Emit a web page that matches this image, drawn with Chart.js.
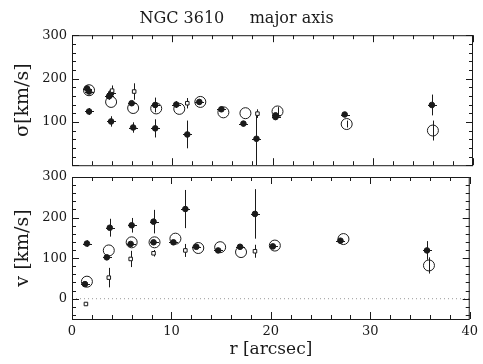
<!DOCTYPE html>
<html>
<head>
<meta charset="utf-8">
<script src="https://cdn.jsdelivr.net/npm/chart.js@4"></script>
<style>
body { margin: 0; background: #fff; }
#wrap { position: relative; width: 483px; height: 364px; }
#sigmaChart { position: absolute; left: 0; top: 0; }
#velChart { position: absolute; left: 0; top: 160px; }
</style>
</head>
<body>
<div id="wrap">
<canvas id="sigmaChart" width="483" height="178"></canvas>
<canvas id="velChart" width="483" height="204"></canvas>
</div>
<script>
// tick labels
const rTicks = [0, 10, 20, 30, 40];
const sigmaTicks = [100, 200, 300];
const velTicks = [0, 100, 200, 300];

// sigma panel (km/s)
const sigFilledR = [1.5, 1.7, 3.7, 3.9, 5.95, 8.3, 10.4, 12.7, 14.9, 17.1, 20.3, 20.3, 27.2, 35.9];
const sigFilled = [177, 170, 159, 166, 143, 139, 140, 146, 129, 96, 111, 115, 117, 139];
const sigFilledErr = [6, 6, 8, 8, 6, 17, 8, 6, 6, 6, 6, 6, 6, 24];

const sigOutR = [1.7, 3.9, 6.1, 8.3, 11.5, 18.4];
const sigOut = [124, 101, 87, 85, 71, 61];
const sigOutErr = [8, 12, 12, 21, 32, 62];

const sigOpenR = [1.7, 3.9, 6.1, 8.4, 10.7, 12.8, 15.1, 17.3, 20.5, 27.4, 36.0];
const sigOpen = [173, 146, 132, 131, 130, 146, 122, 120, 124, 95, 80];
const sigOpenErr = [0, 0, 0, 0, 0, 0, 0, 0, 10, 8, 23];

const sigSqR = [4.0, 6.2, 11.5, 18.5];
const sigSq = [172, 170, 143, 119];
const sigSqErr = [12, 19, 12, 10];

// velocity panel (km/s)
const velFilledR = [1.3, 3.5, 5.9, 8.2, 10.2, 12.5, 14.7, 16.9, 20.2, 27.0, 35.7];
const velFilled = [36, 102, 135, 139, 139, 128, 119, 128, 129, 143, 119];
const velFilledErr = [5, 6, 6, 6, 6, 5, 6, 6, 5, 6, 23];

const velOutR = [1.5, 3.8, 6.0, 8.2, 11.4, 18.4];
const velOut = [136, 175, 181, 190, 221, 209];
const velOutErr = [8, 22, 18, 29, 47, 61];

const velOpenR = [1.5, 3.7, 6.0, 8.3, 10.4, 12.7, 14.9, 17.0, 20.4, 27.3, 35.9];
const velOpen = [42, 119, 139, 139, 148, 125, 127, 115, 131, 147, 82];
const velOpenErr = [0, 0, 0, 0, 0, 0, 0, 0, 0, 0, 20];

const velSqR = [1.4, 3.7, 5.9, 8.2, 11.4, 18.4];
const velSq = [-13, 52, 98, 112, 119, 117];
const velSqErr = [4, 24, 20, 8, 16, 16];

const zeroLineR = [0, 40];
const zeroLineV = [0, 0];

const FONT = 'DejaVu Serif';
const INK = '#1a1a1a';

function pts(xs, ys) {
    return xs.map((x, i) => ({ x: x, y: ys[i] }));
}

function filledSet(xs, ys, errs) {
    return { data: pts(xs, ys), errors: errs, arms: true, pointStyle: 'circle', pointRadius: 2.8,
        backgroundColor: INK, borderColor: INK, borderWidth: 1 };
}
function openSet(xs, ys, errs) {
    return { data: pts(xs, ys), errors: errs, pointStyle: 'circle', pointRadius: 5.5,
        backgroundColor: 'rgba(0,0,0,0)', borderColor: INK, borderWidth: 1 };
}
function squareSet(xs, ys, errs) {
    return { data: pts(xs, ys), errors: errs, pointStyle: 'rect', pointRadius: 2.5,
        backgroundColor: '#fff', borderColor: INK, borderWidth: 1 };
}

// vertical error bars (+ short horizontal arms on the filled symbols)
const errorBars = {
    id: 'errorBars',
    beforeDatasetsDraw(chart) {
        const ctx = chart.ctx, xs = chart.scales.x, ys = chart.scales.y, a = chart.chartArea;
        ctx.save();
        ctx.beginPath();
        ctx.rect(a.left, a.top, a.right - a.left, a.bottom - a.top);
        ctx.clip();
        ctx.strokeStyle = INK;
        ctx.lineWidth = 1;
        chart.data.datasets.forEach(ds => {
            if (!ds.errors) return;
            ds.data.forEach((p, j) => {
                const e = ds.errors[j];
                const px = Math.round(xs.getPixelForValue(p.x)) + 0.5;
                const py = Math.round(ys.getPixelForValue(p.y)) + 0.5;
                ctx.beginPath();
                if (e) {
                    ctx.moveTo(px, ys.getPixelForValue(p.y - e));
                    ctx.lineTo(px, ys.getPixelForValue(p.y + e));
                }
                if (ds.arms) {
                    ctx.moveTo(px - 4.5, py);
                    ctx.lineTo(px + 4.5, py);
                }
                ctx.stroke();
            });
        });
        ctx.restore();
    }
};

// frame with inward ticks on all four sides
const frameTicks = {
    id: 'frameTicks',
    afterDraw(chart) {
        const { ctx, chartArea: a, scales: { x, y } } = chart;
        ctx.save();
        ctx.strokeStyle = INK;
        ctx.lineWidth = 1;
        ctx.strokeRect(a.left + 0.5, a.top + 0.5, a.right - a.left - 1, a.bottom - a.top);
        ctx.beginPath();
        for (let v = x.min; v <= x.max; v += 2) {
            const px = Math.round(x.getPixelForValue(v)) + 0.5;
            const len = v % 10 === 0 ? 7 : 4;
            ctx.moveTo(px, a.bottom); ctx.lineTo(px, a.bottom - len);
            ctx.moveTo(px, a.top); ctx.lineTo(px, a.top + len);
        }
        for (let v = Math.ceil(y.min / 20) * 20; v <= y.max; v += 20) {
            const py = Math.round(y.getPixelForValue(v)) + 0.5;
            const len = v % 100 === 0 ? 7 : 4;
            ctx.moveTo(a.left, py); ctx.lineTo(a.left + len, py);
            ctx.moveTo(a.right, py); ctx.lineTo(a.right - len, py);
        }
        ctx.stroke();
        ctx.restore();
    }
};

function yScale(min, max, labels, titleText) {
    return {
        type: 'linear', min: min, max: max,
        afterBuildTicks: s => { s.ticks = labels.map(v => ({ value: v })); },
        afterFit: s => { s.width = 72; },
        grid: { display: false, drawTicks: false },
        border: { display: false },
        ticks: { color: INK, padding: 5, font: { family: FONT, size: 13 } },
        title: { display: true, text: titleText, color: INK, padding: { top: 12, bottom: 0 },
            font: { family: FONT, size: 19 } }
    };
}

const common = {
    responsive: false,
    animation: false,
    devicePixelRatio: 1,
    events: []
};

new Chart(document.getElementById('sigmaChart'), {
    type: 'scatter',
    data: {
        datasets: [
            squareSet(sigSqR, sigSq, sigSqErr),
            openSet(sigOpenR, sigOpen, sigOpenErr),
            filledSet(sigOutR, sigOut, sigOutErr),
            filledSet(sigFilledR, sigFilled, sigFilledErr)
        ]
    },
    options: Object.assign({}, common, {
        layout: { padding: { left: 0, right: 10, top: 0, bottom: 1 } },
        scales: {
            x: { type: 'linear', min: 0, max: 40, display: false },
            y: yScale(0, 300, sigmaTicks, 'σ[km/s]')
        },
        plugins: {
            legend: { display: false },
            tooltip: { enabled: false },
            title: { display: true, text: 'NGC 3610     major axis', color: INK,
                padding: { top: 9, bottom: 7 }, font: { family: FONT, size: 16, weight: 'normal' } }
        }
    }),
    plugins: [errorBars, frameTicks]
});

new Chart(document.getElementById('velChart'), {
    type: 'scatter',
    data: {
        datasets: [
            { type: 'line', data: pts(zeroLineR, zeroLineV), borderColor: '#999', borderWidth: 1,
              borderDash: [1, 3], pointRadius: 0 },
            squareSet(velSqR, velSq, velSqErr),
            openSet(velOpenR, velOpen, velOpenErr),
            filledSet(velOutR, velOut, velOutErr),
            filledSet(velFilledR, velFilled, velFilledErr)
        ]
    },
    options: Object.assign({}, common, {
        layout: { padding: { left: 0, right: 10, top: 17, bottom: 0 } },
        scales: {
            x: {
                type: 'linear', min: 0, max: 40,
                afterBuildTicks: s => { s.ticks = rTicks.map(v => ({ value: v })); },
                afterFit: s => { s.height = 45; },
                grid: { display: false, drawTicks: false },
                border: { display: false },
                ticks: { color: INK, padding: 5, maxRotation: 0, font: { family: FONT, size: 13 } },
                title: { display: true, text: 'r [arcsec]', color: INK, padding: { top: 0, bottom: 4 },
                    font: { family: FONT, size: 17 } }
            },
            y: yScale(-50, 300, velTicks, 'v [km/s]')
        },
        plugins: {
            legend: { display: false },
            tooltip: { enabled: false }
        }
    }),
    plugins: [errorBars, frameTicks]
});
</script>
</body>
</html>
